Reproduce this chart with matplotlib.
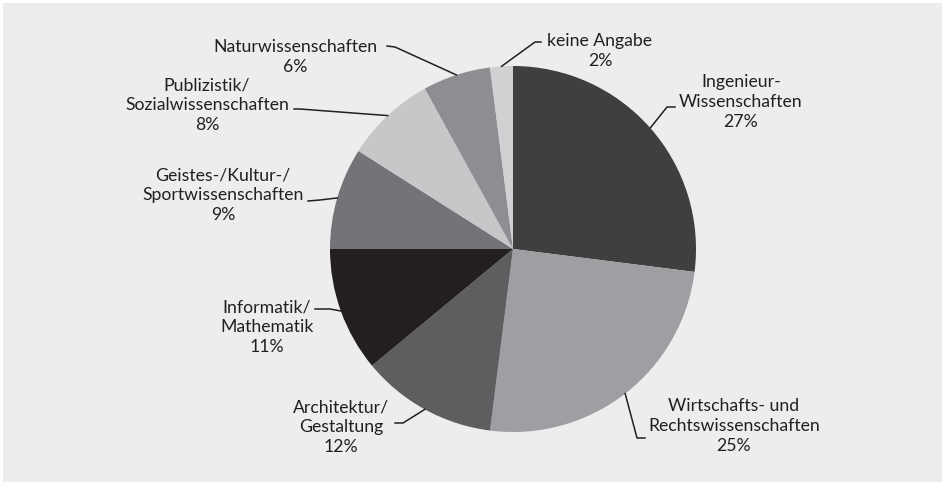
import numpy as np
import matplotlib.pyplot as plt
from matplotlib.patches import Rectangle

plt.rcParams['font.family'] = ['Lato', 'DejaVu Sans']

labels = ["Ingenieur-\nWissenschaften", "Wirtschafts- und\nRechtswissenschaften",
          "Architektur/\nGestaltung", "Informatik/\nMathematik",
          "Geistes-/Kultur-/\nSportwissenschaften", "Publizistik/\nSozialwissenschaften",
          "Naturwissenschaften", "keine Angabe"]
shares = [27, 25, 12, 11, 9, 8, 6, 2]
colors = ["#3f3f3f", "#9e9fa2", "#5e5e60", "#231f20",
          "#737477", "#c6c7c9", "#8d8e91", "#d0d1d3"]

# layout in pixels (figure 945x484, pie centre 513/249, radius 183)
W, H = 945, 484
cx, cy, R = 513, 249, 183
text_pos = [(741, 102), (734, 426), (341, 427), (267, 327),
            (223, 195), (207, 105), (295, 57), (600, 51)]
elbows = [(667, 107), (637, 438), (403, 423), (330, 309),
          (320, 200), (300, 109), (395, 47), (535, 42)]
ends = [(675, 107), (645, 438), (395, 423), (315, 309),
        (308, 201), (294, 109), (387, 46), (541, 42)]


def px(p):
    return ((p[0] - cx) / R, (cy - p[1]) / R)


fig = plt.figure(figsize=(W / 100, H / 100), dpi=100, facecolor="white")
ax = fig.add_axes([0, 0, 1, 1])

wedges, _ = ax.pie(shares, colors=colors, startangle=90, counterclock=False,
                   radius=1, wedgeprops=dict(linewidth=0, edgecolor="none"))
for w in wedges:
    w.set_zorder(2)

ax.set_xlim(-cx / R, (W - cx) / R)
ax.set_ylim(-(H - cy) / R, cy / R)
ax.set_aspect("equal")
ax.axis("off")

x0, y0 = px((3, 3))
x1, y1 = px((942, 482))
ax.add_patch(Rectangle((x0, y1), x1 - x0, y0 - y1, facecolor="#ededed",
                       edgecolor="none", zorder=0))

for i, w in enumerate(wedges):
    mid = np.deg2rad((w.theta1 + w.theta2) / 2)
    sx, sy = np.cos(mid), np.sin(mid)
    ex, ey = px(elbows[i])
    tx, ty = px(ends[i])
    ax.plot([sx, ex, tx], [sy, ey, ty], color="#231f20", lw=1.1, zorder=3)
    lx, ly = px(text_pos[i])
    ax.text(lx, ly, labels[i] + "\n" + str(shares[i]) + "%", ha="center",
            va="center", fontsize=12.7, color="#231f20", linespacing=1.28, zorder=4)

fig.savefig("out.png", dpi=100, facecolor="white")
